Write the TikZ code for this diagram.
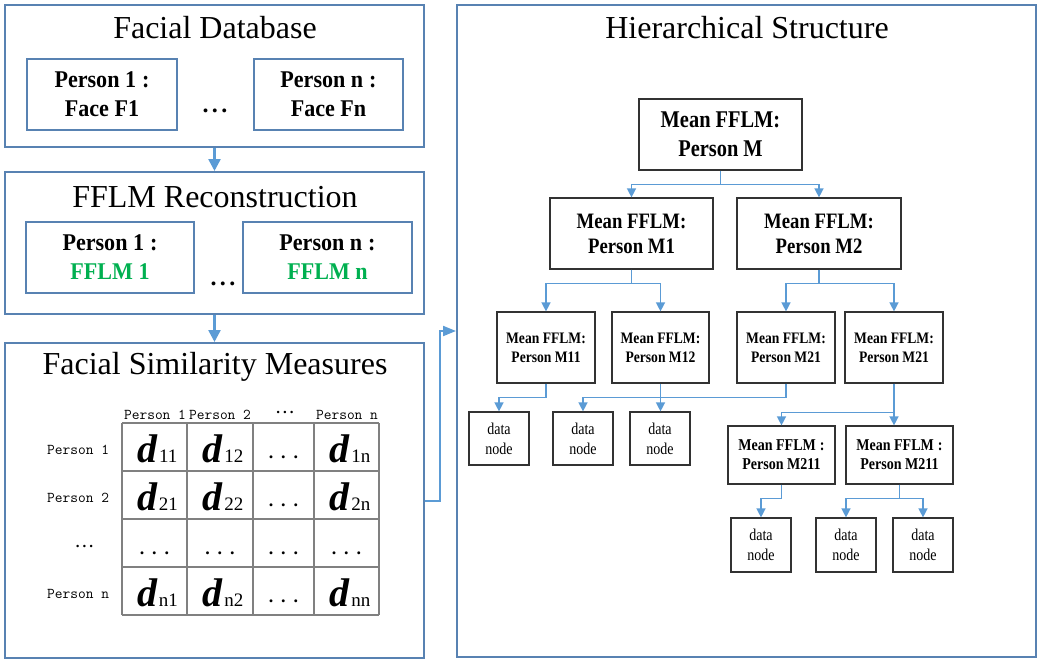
\documentclass[tikz,border=0pt]{standalone}
\usepackage{fontspec}
\setmainfont{Liberation Serif}
\newfontfamily\condA[FakeStretch=0.92]{Liberation Serif}
\newfontfamily\condB[FakeStretch=0.85]{Liberation Serif}
\usetikzlibrary{arrows.meta,calc}
\definecolor{panelblue}{RGB}{88,130,178}
\definecolor{connblue}{RGB}{91,155,213}
\definecolor{ffgreen}{RGB}{0,176,80}
\definecolor{treegray}{RGB}{50,50,50}
\definecolor{gridgray}{RGB}{128,128,128}
\newcommand\fs[2]{\fontsize{#1}{#2}\selectfont}
\newcommand\fwcolon{\hspace{0.25em}:\hspace{0.35em}}
\newcommand\dij[1]{{\fs{40}{40}\bfseries\itshape d}\kern1.5pt{\fs{19}{19}#1}}
\newcommand\tdots{{\fs{18}{18}\bfseries .\hspace{8pt}.\hspace{8pt}.}}
\newcommand\hdots{{\fs{15}{15}\bfseries .\hspace{3pt}.\hspace{3pt}.}}
\newcommand\bigdots{{\fs{24}{24}\bfseries .\hspace{3.5pt}.\hspace{3.5pt}.}}
\begin{document}
\begin{tikzpicture}[x=1pt,y=-1pt,
  panel/.style={draw=panelblue, line width=2pt, inner sep=0pt},
  inbox/.style={draw=panelblue, line width=1.2pt, inner sep=0pt, align=center, font=\condA\bfseries\fs{24}{29}},
  tnode/.style={draw=treegray, line width=1.2pt, inner sep=0pt, align=center},
  lvA/.style={tnode, minimum width=163pt, minimum height=71pt, font=\condB\bfseries\fs{24}{29}},
  lvB/.style={tnode, minimum width=163pt, minimum height=71pt, font=\condB\bfseries\fs{22}{25}},
  lvC/.style={tnode, minimum width=98pt, minimum height=71pt, font=\condB\bfseries\fs{16}{19}},
  lvD/.style={tnode, minimum width=107pt, minimum height=58pt, font=\condB\bfseries\fs{16.5}{19}},
  datanode/.style={tnode, minimum width=60pt, minimum height=53pt, font=\condB\fs{16.5}{20}},
  title/.style={font=\fs{32}{38}, inner sep=0pt},
  bigarrow/.style={draw=connblue, line width=2.5pt, -{Triangle[length=12pt,width=12pt]}},
  sidearrow/.style={draw=connblue, line width=2pt, -{Triangle[length=13pt,width=10pt]}},
  conn/.style={draw=connblue, line width=1.4pt, -{Triangle[length=9pt,width=9pt]}},
  lab/.style={font=\ttfamily\fs{15}{15}, inner sep=0pt},
  cell/.style={inner sep=0pt, anchor=base}
]
\useasboundingbox (0,0) rectangle (1037,659);

% ---------- panels ----------
\node[panel, minimum width=419pt, minimum height=142pt] (p1) at (214.5,76) {};
\node[panel, minimum width=419pt, minimum height=142pt] (p2) at (214.5,243) {};
\node[panel, minimum width=419pt, minimum height=315pt] (p3) at (214.5,500.5) {};
\node[panel, minimum width=579pt, minimum height=652pt] (p4) at (746.5,331) {};

\node[title] (t1) at (215,28) {Facial Database};
\node[title] (t2) at (215,197) {FFLM Reconstruction};
\node[title] (t3) at (215,367) {Facial Similarity Measures};
\node[title] (t4) at (747,28) {Hierarchical Structure};

\node[inbox, minimum width=150pt, minimum height=71pt] (b11) at (102,94.5) {Person 1\fwcolon\\Face F1};
\node[inbox, minimum width=149pt, minimum height=71pt] (b12) at (328.5,94.5) {Person n\fwcolon\\Face Fn};
\node[inner sep=0pt, anchor=base] (e1dots) at (215,112) {\bigdots};

\node[inbox, minimum width=168pt, minimum height=71pt] (b21) at (110,257.5) {Person 1\fwcolon\\\textcolor{ffgreen}{FFLM 1}};
\node[inbox, minimum width=169pt, minimum height=71pt] (b22) at (327.5,257.5) {Person n\fwcolon\\\textcolor{ffgreen}{FFLM n}};
\node[inner sep=0pt, anchor=base] (e2dots) at (223,285) {\bigdots};

\draw[bigarrow] (p1.south) -- (p2.north);
\draw[bigarrow] (p2.south) -- (p3.north);
\draw[sidearrow] (p3.east) -- ++(15,0) |- (p4.west);

% ---------- table ----------
\draw[gridgray, line width=1.2pt]
  (122,423) -- (379,423) (122,471) -- (379,471) (122,519) -- (379,519)
  (122,567) -- (379,567) (122,615) -- (379,615)
  (122,423) -- (122,615) (187,423) -- (187,615) (253,423) -- (253,615)
  (314,423) -- (314,615) (379,423) -- (379,615);

\node[lab, anchor=base] (h1) at (155,419.5) {Person 1};
\node[lab, anchor=base] (h2) at (220,419.5) {Person 2};
\node[inner sep=0pt, anchor=base] (h3) at (285,413) {\hdots};
\node[lab, anchor=base] (h4) at (347,419.5) {Person n};

\node[lab, anchor=base west] (r1) at (47,454) {Person 1};
\node[lab, anchor=base west] (r2) at (47,502) {Person 2};
\node[inner sep=0pt, anchor=base] (r3) at (84.5,547) {\hdots};
\node[lab, anchor=base west] (r4) at (47,598) {Person n};

\node[cell] (c11) at (157.5,462) {\dij{11}};
\node[cell] (c12) at (223,462) {\dij{12}};
\node[cell] (c13) at (283.5,458.5) {\tdots};
\node[cell] (c14) at (350,462) {\dij{1n}};

\node[cell] (c21) at (157.5,510) {\dij{21}};
\node[cell] (c22) at (223,510) {\dij{22}};
\node[cell] (c23) at (283.5,506.5) {\tdots};
\node[cell] (c24) at (350,510) {\dij{2n}};

\node[cell] (c31) at (154.5,554.5) {\tdots};
\node[cell] (c32) at (220,554.5) {\tdots};
\node[cell] (c33) at (283.5,554.5) {\tdots};
\node[cell] (c34) at (346.5,554.5) {\tdots};

\node[cell] (c41) at (157.5,606) {\dij{n1}};
\node[cell] (c42) at (223,606) {\dij{n2}};
\node[cell] (c43) at (283.5,602.5) {\tdots};
\node[cell] (c44) at (350,606) {\dij{nn}};

% ---------- tree ----------
\node[lvA] (M) at (720.5,134.5) {Mean FFLM:\\Person M};
\node[lvB] (M1) at (631.5,233.5) {Mean FFLM:\\Person M1};
\node[lvB, minimum width=164pt] (M2) at (819,233.5) {Mean FFLM:\\Person M2};
\node[lvC] (M11) at (546,347.5) {Mean FFLM:\\Person M11};
\node[lvC, minimum width=97pt] (M12) at (660.5,347.5) {Mean FFLM:\\Person M12};
\node[lvC] (M21) at (786,347.5) {Mean FFLM:\\Person M21};
\node[lvC] (M21b) at (894,347.5) {Mean FFLM:\\Person M21};
\node[datanode] (d1) at (499,438.5) {data\\node};
\node[datanode] (d2) at (583,438.5) {data\\node};
\node[datanode] (d3) at (660,438.5) {data\\node};
\node[lvD] (M211a) at (781.5,455) {Mean FFLM\fwcolon\\Person M211};
\node[lvD] (M211b) at (899.5,455) {Mean FFLM\fwcolon\\Person M211};
\node[datanode, minimum height=54pt] (e1) at (761,545) {data\\node};
\node[datanode, minimum height=54pt] (e2) at (846,545) {data\\node};
\node[datanode, minimum height=54pt] (e3) at (923,545) {data\\node};

\draw[conn] (M.south) -- ++(0,14) -| (M1.north);
\draw[conn] (M.south) -- ++(0,14) -| (M2.north);
\draw[conn] (M1.south) -- ++(0,14) -| (M11.north);
\draw[conn] (M1.south) -- ++(0,14) -| (M12.north);
\draw[conn] (M2.south) -- ++(0,14) -| (M21.north);
\draw[conn] (M2.south) -- ++(0,14) -| (M21b.north);
\draw[conn] (M11.south) -- ++(0,14) -| (d1.north);
\draw[conn] (M12.south) -- (M12.south |- d3.north);
\draw[conn] (M21.south) -- ++(0,14) -| (d2.north);
\draw[conn] (M21b.south) -- ++(0,29) -| (M211a.north);
\draw[conn] (M21b.south) -- (M21b.south |- M211b.north);
\draw[conn] (M211a.south) -- ++(0,14) -| (e1.north);
\draw[conn] (M211b.south) -- ++(0,14) -| (e2.north);
\draw[conn] (M211b.south) -- ++(0,14) -| (e3.north);
\end{tikzpicture}
\end{document}
